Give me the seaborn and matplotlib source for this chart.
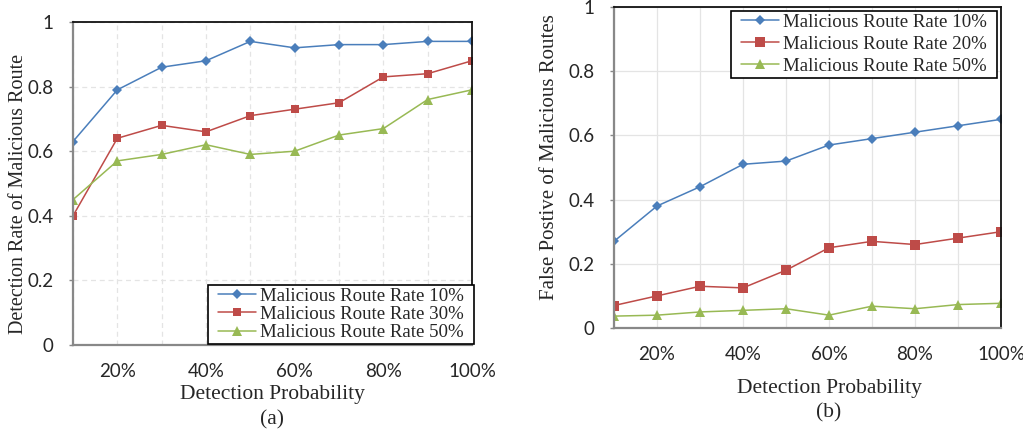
import numpy as np
import pandas as pd
import matplotlib
matplotlib.use("Agg")
import matplotlib.pyplot as plt
from matplotlib.path import Path
import seaborn as sns

# ---- data ----
prob = [10, 20, 30, 40, 50, 60, 70, 80, 90, 100]
tick_labels = ["", "20%", "", "40%", "", "60%", "", "80%", "", "100%"]

a_labels = ["Malicious Route Rate 10%", "Malicious Route Rate 30%", "Malicious Route Rate 50%"]
a_rate10 = [0.63, 0.79, 0.86, 0.88, 0.94, 0.92, 0.93, 0.93, 0.94, 0.94]
a_rate30 = [0.40, 0.64, 0.68, 0.66, 0.71, 0.73, 0.75, 0.83, 0.84, 0.88]
a_rate50 = [0.45, 0.57, 0.59, 0.62, 0.59, 0.60, 0.65, 0.67, 0.76, 0.79]

b_labels = ["Malicious Route Rate 10%", "Malicious Route Rate 20%", "Malicious Route Rate 50%"]
b_rate10 = [0.27, 0.38, 0.44, 0.51, 0.52, 0.57, 0.59, 0.61, 0.63, 0.65]
b_rate20 = [0.07, 0.10, 0.13, 0.125, 0.18, 0.25, 0.27, 0.26, 0.28, 0.30]
b_rate50 = [0.037, 0.040, 0.050, 0.055, 0.060, 0.040, 0.068, 0.060, 0.073, 0.077]

colors = ["#4A7EBB", "#BE4B48", "#98B954"]
markers = ["D", "s", "^"]

sns.set_theme(style="white")
plt.rcParams['font.family'] = ['Lato', 'DejaVu Sans']

SERIF = ['Liberation Serif', 'DejaVu Serif']

fig = plt.figure(figsize=(10.23, 4.34), dpi=100)
W, H = 1023, 434


def ax_at(l, t, r, b):
    return fig.add_axes([l / W, 1 - b / H, (r - l) / W, (b - t) / H])


ax_a = ax_at(73, 22, 472, 345)
ax_b = ax_at(614, 7, 1001, 328)


def make_df(labels, series):
    rows = []
    for lab, vals in zip(labels, series):
        for x, v in zip(prob, vals):
            rows.append({"prob": x, "value": v, "series": lab})
    return pd.DataFrame(rows)


def hpad_box(x0, y0, width, height, mutation_size):
    px = 0.37 * mutation_size
    return Path([(x0 - px, y0), (x0 + width + px, y0), (x0 + width + px, y0 + height),
                 (x0 - px, y0 + height), (x0 - px, y0)], closed=True)


def draw(ax, labels, series, msizes, grid_ls, ylabel, ylab_fs, leg_loc, leg_bbox, lspace):
    df = make_df(labels, series)
    pal = dict(zip(labels, colors))
    mk = dict(zip(labels, markers))
    sns.lineplot(data=df, x="prob", y="value", hue="series", style="series",
                 palette=pal, markers=mk, dashes=False, ax=ax, linewidth=1.1,
                 markeredgewidth=0, legend=True)
    for line, ms in zip(ax.lines, msizes):
        line.set_markersize(ms)
    ax.set_xlim(10, 100)
    ax.set_ylim(0, 1)
    ax.set_xticks(prob)
    ax.set_xticklabels(tick_labels, fontsize=13.5)
    ax.set_yticks([0, 0.2, 0.4, 0.6, 0.8, 1.0])
    ax.set_yticklabels(["0", "0.2", "0.4", "0.6", "0.8", "1"], fontsize=13.5)
    ax.tick_params(axis="x", length=0, pad=13)
    ax.tick_params(axis="y", length=3, width=1, color="#888888", pad=11,
                   direction="out", left=True)
    ax.grid(True, color="#e4e4e4", linestyle=grid_ls, linewidth=0.9)
    ax.set_axisbelow(True)
    for s in ["left", "bottom"]:
        ax.spines[s].set_color("#888888")
        ax.spines[s].set_linewidth(1.6)
    for s in ["top", "right"]:
        ax.spines[s].set_color("#111111")
        ax.spines[s].set_linewidth(1.3)
    ax.set_xlabel("")
    ax.set_ylabel(ylabel, fontsize=ylab_fs, family=SERIF)
    handles, labs = ax.get_legend_handles_labels()
    leg = ax.legend(handles, labs, loc=leg_loc, bbox_to_anchor=leg_bbox,
                    prop={'family': SERIF, 'size': 13.6}, frameon=True,
                    fancybox=False, edgecolor="black", framealpha=1,
                    borderpad=0.15, labelspacing=lspace, handlelength=2.0,
                    handletextpad=0.25, borderaxespad=0)
    leg.get_frame().set_linewidth(1.2)
    leg.get_frame().set_boxstyle(hpad_box)
    for h, ms in zip(leg.legend_handles, msizes):
        h.set_markersize(ms)


draw(ax_a, a_labels, [a_rate10, a_rate30, a_rate50], [5.5, 5.5, 6.5], (0, (4, 3)),
     "Detection Rate of Malicious Route", 14.5, "lower right", (0.9875, 0.003), 0.05)
draw(ax_b, b_labels, [b_rate10, b_rate20, b_rate50], [5.5, 7.5, 6.5], "-",
     "False Postive of Malicious Routes", 15, "upper right", (0.9716, 0.9875), 0.25)

# place y labels at reference positions (anchor is the right side of rotated text)
ax_a.yaxis.set_label_coords((28 - 73) / 399, 0.467)
ax_b.yaxis.set_label_coords((559 - 614) / 387, 0.531)

fig.text(272 / W, 1 - 395 / H, "Detection Probability", ha="center", va="center",
         fontsize=15.5, family=SERIF)
fig.text(272 / W, 1 - 420 / H, "(a)", ha="center", va="center", fontsize=15.5, family=SERIF)
fig.text(829 / W, 1 - 389 / H, "Detection Probability", ha="center", va="center",
         fontsize=15.5, family=SERIF)
fig.text(829 / W, 1 - 413 / H, "(b)", ha="center", va="center", fontsize=15.5, family=SERIF)

fig.savefig("out.png", dpi=100)
